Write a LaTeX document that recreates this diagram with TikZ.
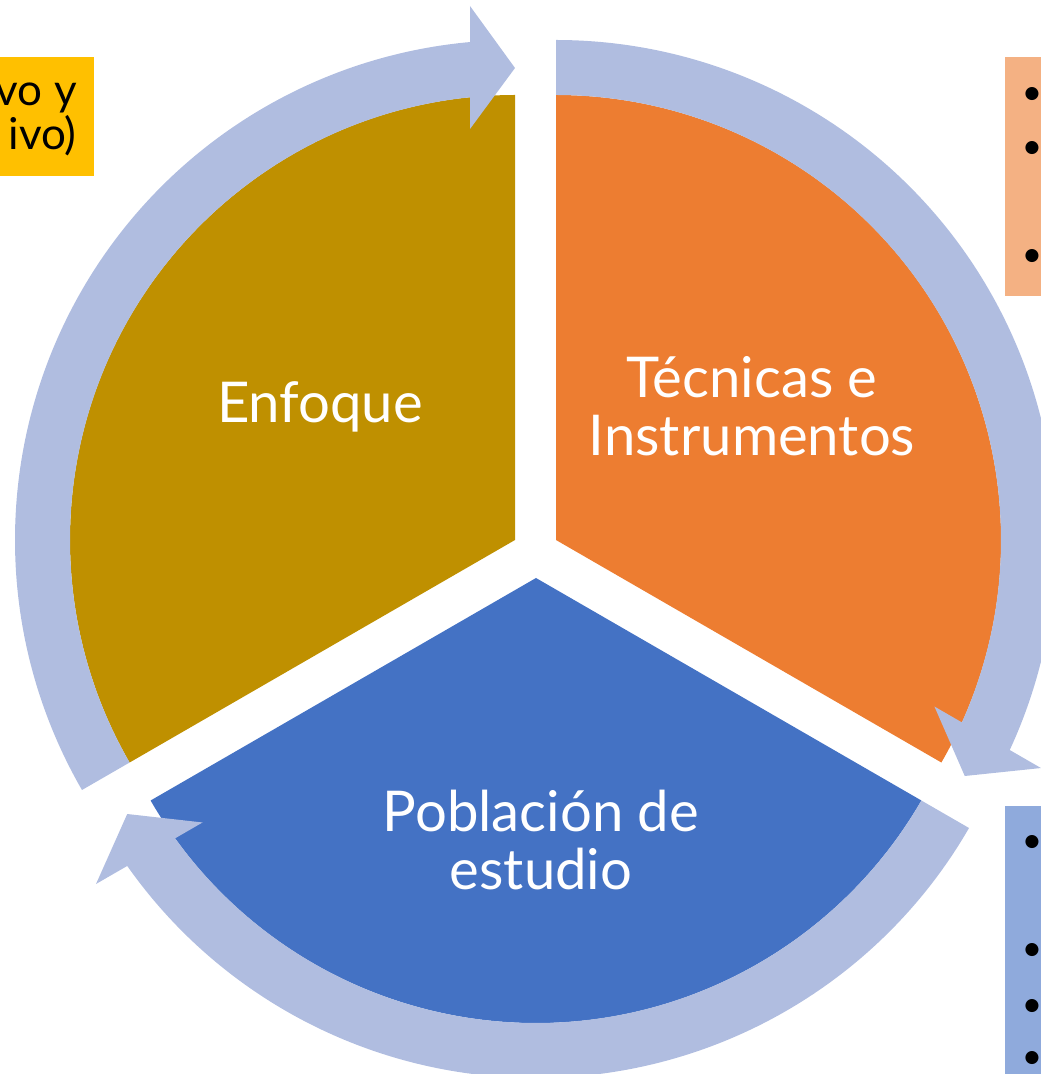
\documentclass[tikz,border=0pt]{standalone}
\usepackage{fontspec}
\setmainfont{Lato}
\usetikzlibrary{calc}

\definecolor{goldsec}{HTML}{BF9000}
\definecolor{orangesec}{HTML}{ED7D31}
\definecolor{bluesec}{HTML}{4472C4}
\definecolor{ringblue}{RGB}{176,189,224}
\definecolor{yellowbox}{HTML}{FFC000}
\definecolor{peachbox}{HTML}{F4B183}
\definecolor{lightbluebox}{HTML}{8FAADC}

\tikzset{
  ringarrow/.style={fill=ringblue, draw=none},
  seglabel/.style={text=white, align=center, inner sep=0pt,
    font=\fontsize{32}{33}\selectfont},
  boxtext/.style={text=black, align=right, inner sep=0pt,
    font=\fontsize{25}{25}\selectfont},
  dot/.style={text=black, inner sep=0pt, font=\fontsize{20}{20}\selectfont},
}

\begin{document}
\begin{tikzpicture}[scale=0.2]
  \useasboundingbox (0,0) rectangle (104.1,107.4);
  \clip (0,0) rectangle (104.1,107.4);

  % Centres of the three sectors
  \coordinate (cg) at (51.5,53.4);
  \coordinate (co) at (55.6,53.4);
  \coordinate (cb) at (53.6,49.6);

  % Pie sectors
  \fill[goldsec] (cg) -- ++(90:44.5) arc (90:210:44.5) -- cycle;
  \fill[orangesec] (co) -- ++(-30:44.5) arc (-30:90:44.5) -- cycle;
  \fill[bluesec] (cb) -- ++(210:44.5) arc (210:330:44.5) -- cycle;

  % Curved arrows (clockwise), head base parallel to the tip radius
  \foreach \c/\s/\e in {cg/210/90, co/90/-30, cb/330/210} {
    \pgfmathsetmacro{\ho}{\e+asin(4.5/50)}
    \pgfmathsetmacro{\hi}{\e+asin(4.5/44.5)}
    \pgfmathsetmacro{\n}{\e+90}
    \fill[ringarrow] ($(\c)+(\s:50)$) arc (\s:\ho:50)
      -- ($(\c)+(\e:53.4)+(\n:4.5)$) -- ($(\c)+(\e:47.2)$)
      -- ($(\c)+(\e:41.1)+(\n:4.5)$)
      -- ($(\c)+(\hi:44.5)$) arc (\hi:\s:44.5) -- cycle;
  }

  % Sector texts
  \node[seglabel] (enfoque) at (32.0,66.7) {Enfoque};
  \node[seglabel] (tecnicas) at (75.2,66.8) {Técnicas e\\Instrumentos};
  \node[seglabel] (poblacion) at (54.1,23.4) {Población de\\estudio};

  % Side boxes (cut by the border)
  \fill[yellowbox] (0,89.8) rectangle (9.4,101.7);
  \node[boxtext, anchor=east] (enfoquenote) at (7.7,95.5) {vo y\\ivo)};

  \fill[peachbox] (100.5,77.8) rectangle (106,101.7);
  \foreach \y [count=\i] in {97.8,92.4,81.6}
    \node[dot] (tecdot\i) at (103.2,\y) {\textbullet};

  \fill[lightbluebox] (100.5,-2) rectangle (106,26.8);
  \foreach \y [count=\i] in {23.0,12.2,6.6,1.4}
    \node[dot] (pobdot\i) at (103.2,\y) {\textbullet};
\end{tikzpicture}
\end{document}
